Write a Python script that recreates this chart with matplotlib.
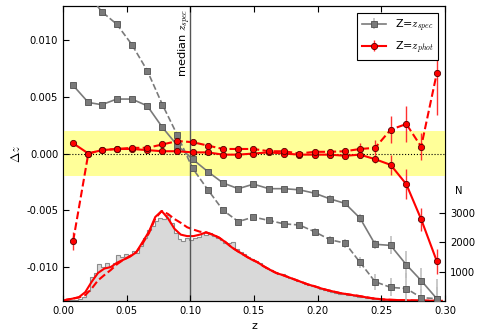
import matplotlib
matplotlib.use('Agg')
import matplotlib.pyplot as plt
import numpy as np

# binned offsets, Delta z vs Z
z_mid = [0.0080, 0.0199, 0.0305, 0.0422, 0.0541, 0.0662, 0.0781, 0.0899, 0.1018,
         0.1138, 0.1257, 0.1377, 0.1496, 0.1617, 0.1736, 0.1856, 0.1977, 0.2097,
         0.2216, 0.2333, 0.2451, 0.2573, 0.2696, 0.2813, 0.2936]

dz_spec_a = [0.0060, 0.0045, 0.0043, 0.0048, 0.0048, 0.0042, 0.0023, 0.0007, -0.0005,
             -0.0016, -0.0026, -0.0031, -0.0027, -0.0031, -0.0031, -0.0032, -0.0035,
             -0.0040, -0.0044, -0.0057, -0.0080, -0.0081, -0.0098, -0.0112, -0.0128]
err_spec_a = [0.0001, 0.0001, 0.0001, 0.0001, 0.0001, 0.0001, 0.0001, 0.0001, 0.0001,
              0.0001, 0.0001, 0.0001, 0.0001, 0.0001, 0.0001, 0.0001, 0.0002, 0.0003,
              0.0003, 0.0004, 0.0004, 0.0008, 0.0012, 0.0011, 0.0017]

dz_spec_b = [0.0160, 0.0140, 0.0125, 0.0114, 0.0096, 0.0073, 0.0043, 0.0016, -0.0013,
             -0.0032, -0.0050, -0.0060, -0.0056, -0.0059, -0.0062, -0.0063, -0.0069,
             -0.0076, -0.0079, -0.0096, -0.0113, -0.0118, -0.0119, -0.0127, -0.0128]
err_spec_b = [0.0002, 0.0002, 0.0002, 0.0002, 0.0002, 0.0002, 0.0002, 0.0002, 0.0002,
              0.0002, 0.0002, 0.0002, 0.0002, 0.0002, 0.0002, 0.0002, 0.0003, 0.0003,
              0.0004, 0.0005, 0.0007, 0.0008, 0.0014, 0.0008, 0.0010]

dz_phot_a = [0.0009, 0.0000, 0.0003, 0.0004, 0.0004, 0.0003, 0.0002, 0.0002, 0.0001,
             0.0001, -0.0001, -0.0001, 0.0000, 0.0001, 0.0000, -0.0001, -0.0001,
             -0.0001, -0.0002, -0.0001, -0.0005, -0.0010, -0.0027, -0.0058, -0.0095]
err_phot_a = [0.0002, 0.0001, 0.0001, 0.0001, 0.0001, 0.0001, 0.0001, 0.0001, 0.0001,
              0.0001, 0.0001, 0.0001, 0.0001, 0.0001, 0.0001, 0.0001, 0.0001, 0.0001,
              0.0002, 0.0002, 0.0003, 0.0009, 0.0013, 0.0010, 0.0011]

dz_phot_b = [-0.0077, 0.0000, 0.0003, 0.0004, 0.0005, 0.0005, 0.0008, 0.0011, 0.0010,
             0.0007, 0.0004, 0.0004, 0.0004, 0.0002, 0.0002, 0.0000, 0.00015, 0.00015,
             0.0002, 0.0004, 0.0005, 0.0021, 0.0026, 0.0006, 0.0071]
err_phot_b = [0.0008, 0.0001, 0.0001, 0.0001, 0.0001, 0.0001, 0.0001, 0.0001, 0.0001,
              0.0001, 0.0001, 0.0001, 0.0001, 0.0001, 0.0001, 0.0001, 0.0002, 0.0002,
              0.0003, 0.0005, 0.0007, 0.0012, 0.0016, 0.0012, 0.0037]

# N(z) of the spectroscopic sample, bins of 0.003
hist_spec = [10, 20, 30, 40, 60, 150, 350, 800, 950, 1250,
             1150, 1300, 1180, 1300, 1550, 1480, 1600, 1560, 1700, 1620,
             1850, 2150, 2400, 2550, 2700, 2800, 2780, 2920, 2650, 2300,
             2100, 2050, 2120, 2080, 2150, 2180, 2300, 2250, 2320, 2200,
             2150, 2080, 1980, 1950, 2000, 1760, 1650, 1580, 1500, 1420,
             1350, 1280, 1200, 1130, 1060, 990, 930, 900, 840, 780,
             730, 690, 640, 590, 540, 500, 460, 420, 380, 350,
             310, 280, 250, 230, 210, 190, 170, 150, 130, 110,
             90, 75, 60, 50, 40, 35, 30, 25, 20, 18,
             15, 12, 10, 8, 6, 5, 4, 3, 2, 2]

# N(z) of the photometric redshifts, bins of 0.005
hist_phot_a = [40, 80, 130, 300, 650, 950, 1100, 1150, 1300, 1400,
               1500, 1650, 2000, 2350, 2850, 3050, 2800, 2450, 2250, 2200,
               2200, 2250, 2330, 2250, 2150, 2000, 1820, 1680, 1550, 1420,
               1320, 1180, 1060, 950, 880, 800, 720, 640, 560, 500,
               430, 370, 320, 270, 235, 200, 170, 130, 95, 70,
               50, 40, 32, 27, 22, 17, 13, 10, 8, 5]
hist_phot_b = [40, 80, 120, 200, 420, 700, 880, 1050, 1250, 1400,
               1520, 1650, 1950, 2300, 2800, 3050, 2950, 2780, 2650, 2500,
               2420, 2350, 2320, 2250, 2150, 2000, 1820, 1680, 1550, 1420,
               1320, 1180, 1060, 950, 880, 800, 720, 640, 560, 500,
               430, 370, 320, 270, 235, 200, 170, 130, 95, 70,
               50, 40, 32, 27, 22, 17, 13, 10, 8, 5]

plt.rcParams['font.size'] = 7.2
plt.rcParams['mathtext.fontset'] = 'cm'
plt.rcParams['xtick.direction'] = 'in'
plt.rcParams['ytick.direction'] = 'in'

fig = plt.figure(figsize=(4.79, 3.35), dpi=100)
ax = fig.add_axes([0.1315, 0.1015, 0.7975, 0.8805])
ax2 = ax.twinx()
ax.set_zorder(ax2.get_zorder() + 1)
ax.patch.set_visible(False)

# histograms on the right-hand axis
edges_spec = np.linspace(0, 0.3, len(hist_spec) + 1)
ax2.stairs(hist_spec, edges_spec, fill=True, color='#d9d9d9')
ax2.stairs(hist_spec, edges_spec, color='#8c8c8c', lw=0.8)
mid_phot = np.linspace(0, 0.3, len(hist_phot_a) + 1)
mid_phot = (mid_phot[1:] + mid_phot[:-1]) / 2
ax2.plot(np.r_[0, mid_phot], np.r_[0, hist_phot_a], color='red', lw=1.5)
ax2.plot(np.r_[0, mid_phot], np.r_[0, hist_phot_b], color='red', lw=1.5, ls='--')
ax2.set_ylim(0, 10000)
ax2.set_yticks([1000, 2000, 3000])
ax2.tick_params(length=4)
ax2.set_ylabel('N', rotation=0)
ax2.yaxis.set_label_coords(1.037, 0.39)

# offsets
ax.axhspan(-0.002, 0.002, color='#ffff99', lw=0, zorder=0)
ax.axhline(0, color='k', ls=':', lw=0.8, zorder=1)
ax.axvline(0.1, color='#555555', lw=1.0, zorder=1)
ax.text(0.0958, 0.0128, 'median $z_{spec}$', rotation=90, ha='center', va='top',
        fontsize=8.2)

gray = '#7a7a7a'
ax.errorbar(z_mid, dz_spec_a, yerr=err_spec_a, fmt='s-', color=gray, ecolor='#c0c0c0',
            mfc=gray, mec='#505050', ms=4, lw=1.2, elinewidth=1.2, mew=0.6, zorder=3,
            label='Z=$z_{spec}$')
ax.errorbar(z_mid, dz_spec_b, yerr=err_spec_b, fmt='s--', color=gray, ecolor='#c0c0c0',
            mfc=gray, mec='#505050', ms=4, lw=1.2, elinewidth=1.2, mew=0.6, zorder=3)
ax.errorbar(z_mid, dz_phot_a, yerr=err_phot_a, fmt='o-', color='red', ecolor='#ff3030',
            mfc='red', mec='#550000', ms=4.5, lw=1.5, elinewidth=1.0, mew=0.6, zorder=4,
            label='Z=$z_{phot}$')
ax.errorbar(z_mid, dz_phot_b, yerr=err_phot_b, fmt='o--', color='red', ecolor='#ff3030',
            mfc='red', mec='#550000', ms=4.5, lw=1.5, elinewidth=1.0, mew=0.6, zorder=4)

ax.set_xlim(0, 0.3)
ax.set_ylim(-0.013, 0.013)
ax.set_xticks([0, 0.05, 0.1, 0.15, 0.2, 0.25, 0.3])
ax.set_yticks([-0.01, -0.005, 0, 0.005, 0.01])
ax.xaxis.set_major_formatter(matplotlib.ticker.FormatStrFormatter('%.2f'))
ax.yaxis.set_major_formatter(matplotlib.ticker.FormatStrFormatter('%.3f'))
ax.tick_params(top=True, length=4)
ax.set_xlabel('z', fontsize=8)
ax.set_ylabel(r'$\Delta z$', fontsize=9)
ax.yaxis.set_label_coords(-0.105, 0.5)

leg = ax.legend(loc='upper right', fontsize=8, fancybox=False, framealpha=1,
                edgecolor='k', handlelength=2.2, borderaxespad=0.6)
leg.get_frame().set_linewidth(0.8)

fig.savefig('out.png', dpi=100)
